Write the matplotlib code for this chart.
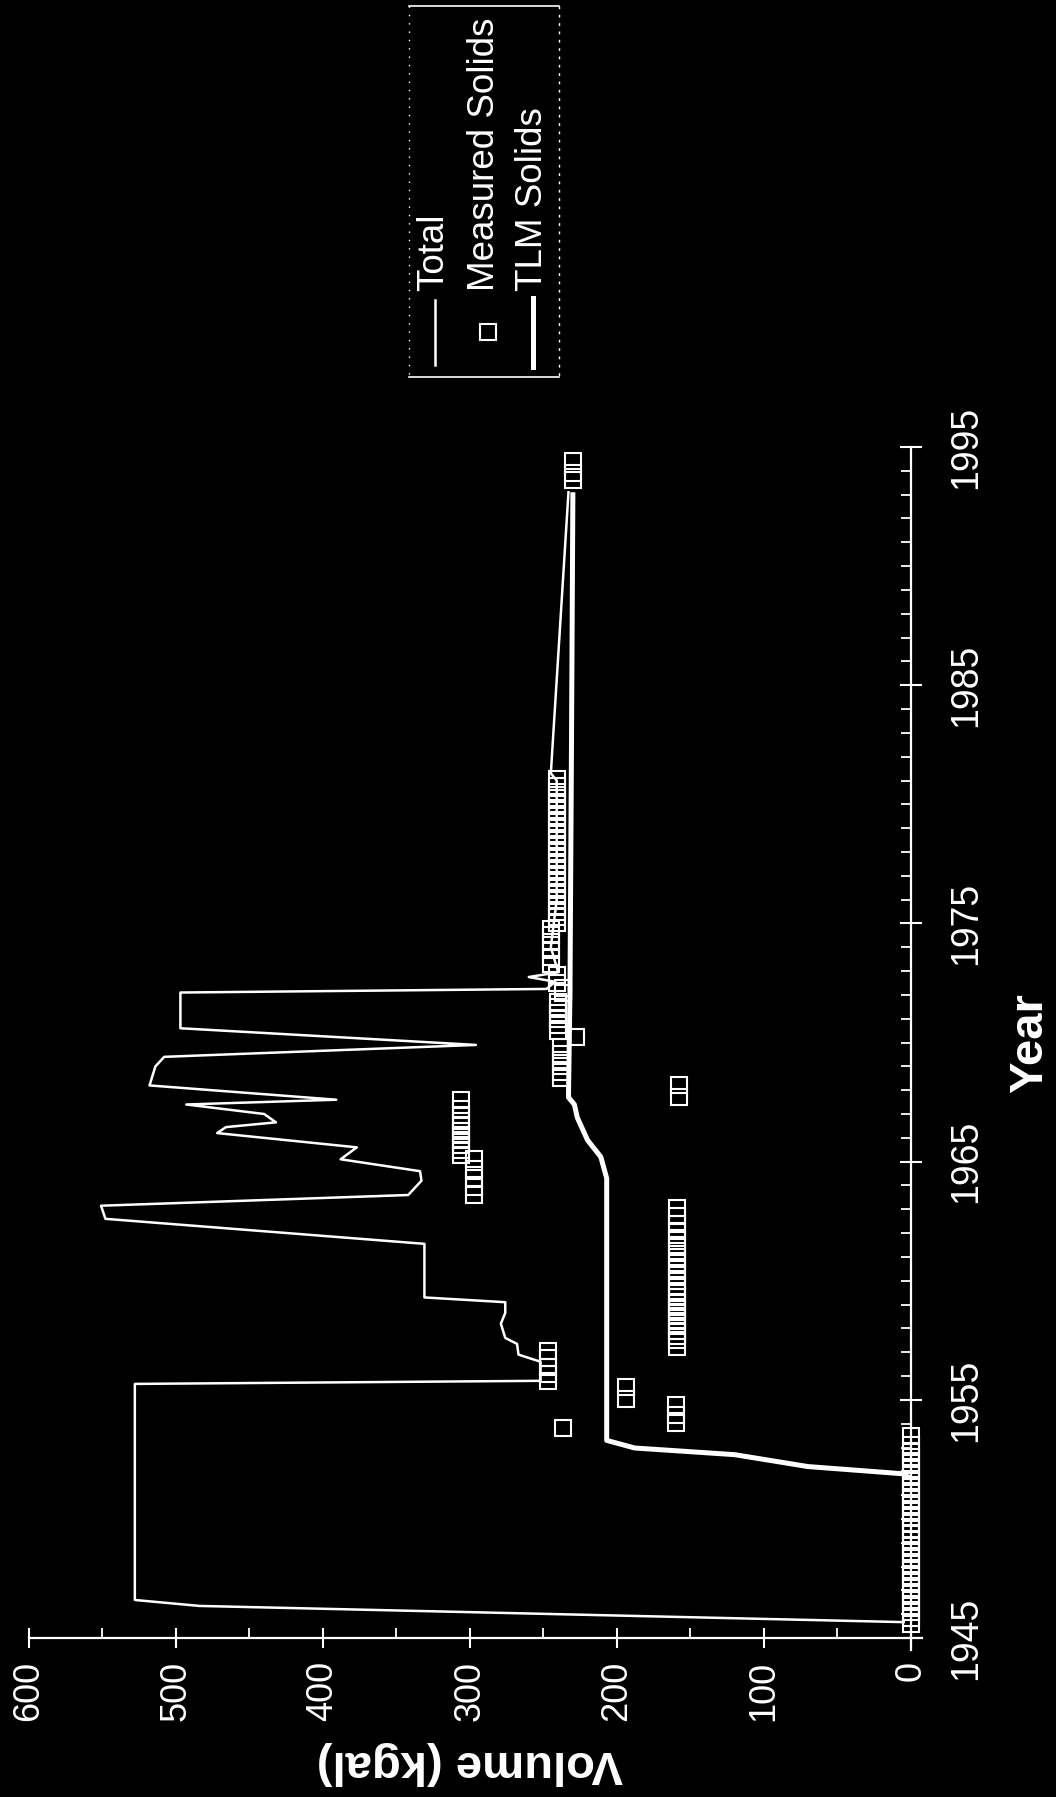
import matplotlib
matplotlib.use('Agg')
import matplotlib.pyplot as plt
from matplotlib.lines import Line2D
from matplotlib.ticker import MultipleLocator

plt.rcParams['font.family'] = ['Liberation Sans', 'DejaVu Sans']

FG = 'white'
BG = 'black'

# Total volume (kgal) vs year
total_year = [1945.67, 1946.35, 1946.6, 1955.67, 1955.8, 1956.6, 1956.9, 1957.35, 1957.6,
              1958.2, 1958.65, 1959.1, 1959.3, 1961.55, 1962.6, 1963.15, 1963.6, 1964.2,
              1964.6, 1965.1, 1965.6, 1966.2, 1966.45, 1966.65, 1967.0, 1967.4, 1967.6,
              1968.2, 1969.0, 1969.4, 1969.9, 1970.6, 1972.1, 1972.25, 1972.55, 1972.75,
              1972.95, 1974.0, 1976.0, 1981.0, 1981.3, 1993.1]
total_vol = [5, 484, 528, 528, 252, 252, 267, 268, 276,
             279, 276, 276, 331, 331, 548, 551, 342, 333,
             334, 388, 377, 472, 466, 432, 440, 493, 391,
             518, 514, 508, 296, 497, 497, 248, 242, 260,
             240, 245, 241, 241, 245, 233]

# TLM solids
tlm_year = [1951.7, 1951.9, 1952.2, 1952.7, 1952.98, 1953.3, 1964.3, 1965.2, 1965.9,
            1966.85, 1967.4, 1967.7, 1972.0, 1982.0, 1993.1]
tlm_vol = [0, 6, 70, 120, 188, 207, 207, 211, 220, 227, 229, 233, 232, 231, 230]

# Measured solids, grouped by level
meas_a_year = [1945.6, 1945.85, 1946.1, 1946.35, 1946.6, 1946.85, 1947.1, 1947.35, 1947.6,
               1947.85, 1948.1, 1948.35, 1948.6, 1948.85, 1949.1, 1949.35, 1949.6, 1949.85,
               1950.1, 1950.35, 1950.6, 1950.85, 1951.1, 1951.35, 1951.6, 1951.85, 1952.1,
               1952.35, 1952.6, 1952.85, 1953.1, 1953.5]
meas_a_vol = [0] * len(meas_a_year)

meas_b_year = [1953.8, 1954.05, 1954.35, 1954.8, 1955.05, 1955.55,
               1955.8, 1956.1, 1956.4, 1956.75, 1957.05]
meas_b_vol = [237, 160, 160, 160, 194, 194,
              247, 247, 247, 247, 247]

meas_c_year = [1957.2, 1957.5, 1957.7, 1957.9, 1958.1, 1958.3, 1958.5, 1958.7, 1958.9,
               1959.1, 1959.3, 1959.5, 1959.75, 1960.0, 1960.25, 1960.5, 1960.75, 1961.0,
               1961.25, 1961.5, 1961.8, 1962.1, 1962.4, 1962.7, 1963.05]
meas_c_vol = [159] * len(meas_c_year)

meas_d_year = [1963.6, 1963.95, 1964.3, 1964.7, 1965.1,
               1965.3, 1965.5, 1965.7, 1965.9, 1966.1, 1966.3, 1966.5, 1966.7, 1966.95,
               1967.2, 1967.6, 1967.7, 1968.2]
meas_d_vol = [297, 297, 297, 297, 297,
              306, 306, 306, 306, 306, 306, 306, 306, 306,
              306, 306, 158, 158]

meas_e_year = [1968.5, 1968.75, 1969.0, 1969.25, 1969.5, 1969.8, 1970.25,
               1970.5, 1970.75, 1971.0, 1971.25, 1971.5, 1971.7, 1972.1, 1972.3,
               1972.5, 1972.85, 1973.3, 1973.6, 1973.9, 1974.2, 1974.5, 1974.75]
meas_e_vol = [238, 238, 238, 238, 238, 238, 228,
              240, 240, 240, 240, 240, 240, 237, 237,
              241, 241, 245, 245, 245, 245, 245, 245]

meas_f_year = [1975.0, 1975.25, 1975.5, 1975.75, 1976.0, 1976.25, 1976.5, 1976.75, 1977.0,
               1977.25, 1977.5, 1977.75, 1978.0, 1978.25, 1978.5, 1978.75, 1979.0, 1979.25,
               1979.5, 1979.75, 1980.0, 1980.25, 1980.5, 1980.75, 1981.05,
               1993.6, 1993.9, 1994.4]
meas_f_vol = [241] * 25 + [230, 230, 230]

meas_year = meas_a_year + meas_b_year + meas_c_year + meas_d_year + meas_e_year + meas_f_year
meas_vol = meas_a_vol + meas_b_vol + meas_c_vol + meas_d_vol + meas_e_vol + meas_f_vol

year_ticks = [1945, 1955, 1965, 1975, 1985, 1995]
vol_ticks = [0, 100, 200, 300, 400, 500, 600]

W, H = 1056, 1797


def fx(px):
    return px / W


def fy(py):
    return 1 - py / H


fig = plt.figure(figsize=(W / 100, H / 100), dpi=100, facecolor=BG)
ax = fig.add_axes([fx(29), fy(1650), (922 - 29) / W, (1650 - 447) / H])
ax.set_facecolor(BG)

ax.plot(total_vol, total_year, color=FG, lw=1.8, zorder=3)
ax.plot(tlm_vol, tlm_year, color=FG, lw=3.6, zorder=3, solid_capstyle='butt')
ax.plot(meas_vol, meas_year, ls='none', marker='s', ms=12, mfc='none', mec=FG, mew=1.5,
        zorder=4, clip_on=False)

ax.set_xlim(600, -7.5)
ax.set_ylim(1944.5, 1995)

for s in ['top', 'left']:
    ax.spines[s].set_visible(False)
ax.spines['bottom'].set_position(('data', 1945))
ax.spines['right'].set_position(('data', 0))
for s in ['bottom', 'right']:
    ax.spines[s].set_color(FG)
    ax.spines[s].set_linewidth(1.6)

ax.set_xticks(vol_ticks)
ax.xaxis.set_minor_locator(MultipleLocator(50))
ax.yaxis.tick_right()
ax.set_yticks(year_ticks)
ax.yaxis.set_minor_locator(MultipleLocator(1))

ax.tick_params(axis='x', which='major', direction='inout', length=15, width=1.5,
               color=FG, labelcolor=FG, labelsize=26, pad=9, labelrotation=90)
ax.tick_params(axis='x', which='minor', direction='in', length=7, width=1.3, color=FG)
ax.tick_params(axis='y', which='major', direction='inout', length=16, width=1.5,
               color=FG, labelcolor=FG, labelsize=27, pad=19, labelrotation=90)
ax.tick_params(axis='y', which='minor', direction='in', length=7, width=1.3, color=FG)
for lab in ax.get_yticklabels():
    lab.set_va('center')

fig.text(fx(470), fy(1763), 'Volume (kgal)', rotation=180, ha='center', va='center',
         fontsize=34, fontweight='bold', color=FG)
fig.text(fx(1030), fy(1043), 'Year', rotation=90, ha='center', va='center',
         fontsize=34, fontweight='bold', color=FG)

# legend drawn by hand (rotated)
box_l, box_r, box_t, box_b = 409, 559, 6, 377
fig.add_artist(Line2D([fx(box_l), fx(box_r)], [fy(box_t), fy(box_t)], color=FG, lw=1.2,
                      transform=fig.transFigure))
fig.add_artist(Line2D([fx(box_l), fx(box_r)], [fy(box_b), fy(box_b)], color=FG, lw=1.2,
                      transform=fig.transFigure))
fig.add_artist(Line2D([fx(box_l), fx(box_l)], [fy(box_t), fy(box_b)], color=FG, lw=1.0,
                      ls=(0, (1, 5)), transform=fig.transFigure))
fig.add_artist(Line2D([fx(box_r), fx(box_r)], [fy(box_t), fy(box_b)], color=FG, lw=1.0,
                      ls=(0, (2, 4)), transform=fig.transFigure))

fig.add_artist(Line2D([fx(435), fx(435)], [fy(365), fy(300)], color=FG, lw=1.8,
                      transform=fig.transFigure))
fig.add_artist(Line2D([fx(488)], [fy(332)], ls='none', marker='s', ms=12, mfc='none',
                      mec=FG, mew=1.5, transform=fig.transFigure))
fig.add_artist(Line2D([fx(533), fx(533)], [fy(367), fy(298)], color=FG, lw=3.6,
                      transform=fig.transFigure))
for xc, txt in [(434, 'Total'), (484, 'Measured Solids'), (533, 'TLM Solids')]:
    fig.text(fx(xc), fy(291), txt, rotation=90, ha='center', va='bottom',
             fontsize=26.5, color=FG)

fig.savefig('out.png', dpi=100, facecolor=BG)
